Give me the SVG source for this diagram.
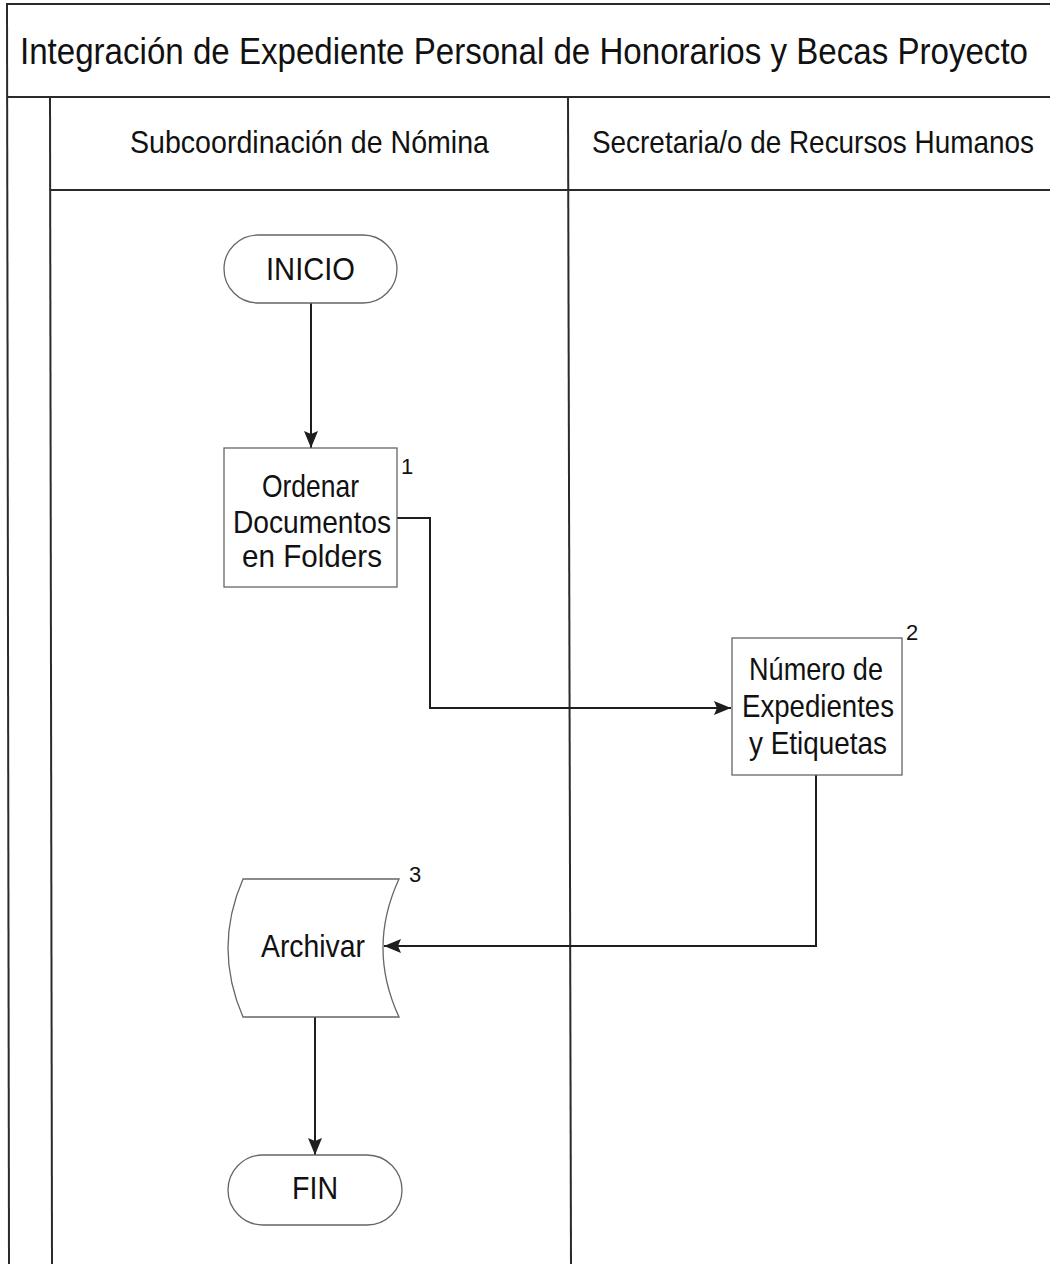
<svg xmlns="http://www.w3.org/2000/svg" width="1050" height="1264" viewBox="0 0 1050 1264">
  <style>
    .frame { stroke: #2a2a2a; stroke-width: 2; fill: none; }
    .node { fill: #ffffff; stroke: #666666; stroke-width: 1.3; }
    .lbl { font-family: "Liberation Sans", Arial, sans-serif; font-size: 32px; fill: #111111; }
    .num { font-family: "Liberation Sans", Arial, sans-serif; font-size: 22px; fill: #111111; }
    .hdr { font-family: "Liberation Sans", Arial, sans-serif; font-size: 27px; fill: #111111; }
    .ttl { font-family: "Liberation Sans", Arial, sans-serif; font-size: 30px; fill: #111111; }
    .conn { stroke: #1e1e1e; stroke-width: 2; fill: none; }
  </style>
  <defs>
    <marker id="arr" viewBox="0 0 17 14" refX="17" refY="7" markerWidth="17" markerHeight="14" markerUnits="userSpaceOnUse" orient="auto">
      <path d="M0,0 L17,7 L0,14 L3,7 Z" fill="#1e1e1e"/>
    </marker>
  </defs>
  <rect x="0" y="0" width="1050" height="1264" fill="#ffffff"/>

  <g id="frame">
    <line class="frame" x1="6" y1="4" x2="1050" y2="4"/>
    <line class="frame" x1="7" y1="4" x2="9" y2="1264"/>
    <line class="frame" x1="7" y1="97" x2="1050" y2="97"/>
    <line class="frame" x1="50" y1="97" x2="52" y2="1264"/>
    <line class="frame" x1="50" y1="190" x2="1050" y2="190"/>
    <line class="frame" x1="568" y1="97" x2="571" y2="1264"/>
    <text class="ttl" x="20" y="53.3" transform="scale(1,1.2)" textLength="1008" lengthAdjust="spacingAndGlyphs">Integración de Expediente Personal de Honorarios y Becas Proyecto</text>
    <text class="hdr" x="130" y="133" transform="scale(1,1.15)" textLength="359" lengthAdjust="spacingAndGlyphs">Subcoordinación de Nómina</text>
    <text class="hdr" x="592" y="133" transform="scale(1,1.15)" textLength="442" lengthAdjust="spacingAndGlyphs">Secretaria/o de Recursos Humanos</text>
  </g>

  <g id="connectors">
    <line class="conn" x1="311" y1="303" x2="311" y2="448" marker-end="url(#arr)"/>
    <polyline class="conn" points="397,518 430,518 430,708 731,708" marker-end="url(#arr)"/>
    <polyline class="conn" points="816,775 816,946 384,946" marker-end="url(#arr)"/>
    <line class="conn" x1="315" y1="1017" x2="315" y2="1155" marker-end="url(#arr)"/>
  </g>

  <g id="inicio">
    <rect class="node" x="224" y="235" width="173" height="68" rx="34" ry="34"/>
    <text class="lbl" x="266" y="280" textLength="89" lengthAdjust="spacingAndGlyphs">INICIO</text>
  </g>

  <g id="paso1">
    <rect class="node" x="224" y="448" width="173" height="139"/>
    <text class="lbl" x="262" y="497" textLength="97" lengthAdjust="spacingAndGlyphs">Ordenar</text>
    <text class="lbl" x="233" y="533" textLength="158" lengthAdjust="spacingAndGlyphs">Documentos</text>
    <text class="lbl" x="242" y="567" textLength="140" lengthAdjust="spacingAndGlyphs">en Folders</text>
    <text class="num" x="401" y="474">1</text>
  </g>

  <g id="paso2">
    <rect class="node" x="732" y="638" width="170" height="137"/>
    <text class="lbl" x="749" y="680" textLength="134" lengthAdjust="spacingAndGlyphs">Número de</text>
    <text class="lbl" x="742" y="717" textLength="152" lengthAdjust="spacingAndGlyphs">Expedientes</text>
    <text class="lbl" x="749" y="754" textLength="138" lengthAdjust="spacingAndGlyphs">y Etiquetas</text>
    <text class="num" x="906" y="640">2</text>
  </g>

  <g id="paso3">
    <path class="node" d="M243,879 L399,879 Q367,948 399,1017 L243,1017 Q213,948 243,879 Z"/>
    <text class="lbl" x="261" y="957" textLength="104" lengthAdjust="spacingAndGlyphs">Archivar</text>
    <text class="num" x="409" y="882">3</text>
  </g>

  <g id="fin">
    <rect class="node" x="228" y="1155" width="174" height="70" rx="35" ry="35"/>
    <text class="lbl" x="292" y="1199" textLength="46" lengthAdjust="spacingAndGlyphs">FIN</text>
  </g>
</svg>
